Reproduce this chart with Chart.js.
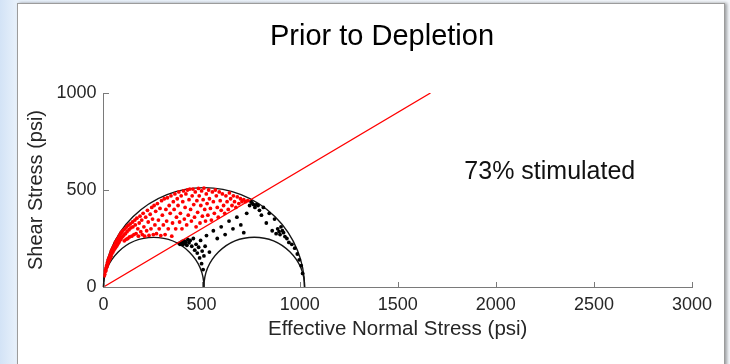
<!DOCTYPE html>
<html>
<head>
<meta charset="utf-8">
<script src="https://cdn.jsdelivr.net/npm/chart.js@4.4.1/dist/chart.umd.min.js"></script>
<style>
    html, body { margin: 0; padding: 0; }
    body {
        width: 730px;
        height: 364px;
        overflow: hidden;
        position: relative;
        background: linear-gradient(to right, #d3e3f6 0px, #e8f1fb 17px, #f3f6fa 100%);
    }
    .panel {
        position: absolute;
        left: 17px;
        top: 3px;
        width: 706px;
        height: 380px;
        background: #fff;
        border: 1px solid #9c9c9c;
        box-shadow: 2px 0 3px rgba(0, 0, 0, 0.35);
    }
    canvas { position: absolute; left: 0; top: 0; }
</style>
</head>
<body>
<div class="panel"></div>
<canvas id="chart" width="730" height="364"></canvas>
<script>
// principal stresses (psi) -> mohr circles as [sigma3, sigma1]
const principalStresses = [0, 512, 1025];
const mohrCircles = [
    [principalStresses[0], principalStresses[2]],
    [principalStresses[0], principalStresses[1]],
    [principalStresses[1], principalStresses[2]]
];

// friction line (mu = 0.6)
const frictionLine = [[0, 0], [1667, 1000]];

const xTicks = [0, 500, 1000, 1500, 2000, 2500, 3000];
const yTicks = [0, 500, 1000];

const chartTitle = 'Prior to Depletion';
const annotationText = '73% stimulated';

// fractures above the friction line [normal, shear]
const stimulatedPoints = [
    [4, 58], [6, 66], [8, 80], [10, 88], [12, 84], [14, 100], [16, 110], [18, 104], [20, 125], [22, 118],
    [24, 140], [26, 130], [28, 150], [30, 140], [32, 160], [34, 148], [36, 170], [38, 158], [40, 185], [42, 170],
    [45, 195], [48, 180], [50, 205], [52, 190], [55, 215], [58, 198], [60, 228], [62, 205], [65, 235], [68, 212],
    [70, 245], [72, 220], [75, 250], [78, 230], [80, 262], [82, 238], [85, 270], [88, 245], [90, 280], [92, 255],
    [95, 285], [98, 260], [100, 292], [104, 268], [106, 238], [110, 300], [112, 275], [115, 245], [118, 310], [120, 285],
    [124, 250], [126, 318], [130, 295], [133, 258], [136, 325], [140, 305], [144, 262], [148, 335], [150, 310], [155, 270],
    [160, 345], [162, 320], [166, 275], [170, 355], [175, 300], [178, 262], [182, 330], [186, 365], [190, 285], [195, 345],
    [198, 270], [202, 380], [206, 310], [210, 262], [215, 360], [220, 290], [224, 395], [228, 335], [232, 266], [238, 375],
    [242, 300], [246, 410], [250, 350], [254, 270], [258, 420], [262, 320], [266, 390], [270, 275], [275, 430], [280, 345],
    [284, 300], [288, 405], [292, 265], [296, 445], [300, 370], [305, 320], [310, 455], [314, 270], [318, 400], [322, 340],
    [326, 460], [330, 300], [335, 420], [340, 380], [344, 470], [348, 262], [352, 330], [356, 440], [360, 400], [364, 480],
    [368, 300], [372, 360], [376, 455], [380, 420], [384, 490], [388, 335], [392, 380], [396, 470], [400, 300], [404, 440],
    [408, 495], [412, 350], [416, 410], [420, 480], [424, 320], [428, 500], [432, 370], [436, 450], [440, 505], [444, 400],
    [448, 340], [452, 470], [456, 505], [460, 425], [464, 360], [468, 490], [472, 310], [476, 445], [480, 385], [484, 508],
    [488, 470], [492, 330], [496, 420], [500, 495], [504, 365], [508, 450], [512, 510], [516, 400], [520, 340], [524, 480],
    [528, 430], [532, 370], [536, 500], [540, 455], [545, 405], [550, 345], [555, 490], [560, 440], [565, 380], [570, 500],
    [575, 470], [580, 410], [585, 360], [590, 490], [595, 445], [600, 395], [606, 480], [612, 420], [618, 380], [624, 470],
    [630, 440], [636, 400], [642, 485], [648, 455], [655, 420], [662, 470], [668, 440], [675, 410], [682, 465], [690, 430],
    [698, 455], [706, 440], [715, 450], [724, 440], [735, 445]
];

// fractures below the friction line
const otherPoints = [
    [385, 225], [390, 220], [395, 230], [398, 222], [402, 235], [405, 218], [408, 228], [412, 238], [415, 225], [420, 232],
    [425, 215], [430, 245], [436, 228], [442, 240], [450, 210], [458, 250], [465, 190], [472, 220], [478, 175], [485, 205],
    [490, 150], [495, 240], [500, 120], [503, 185], [508, 90], [512, 160], [518, 210], [525, 265], [540, 180], [560, 290],
    [580, 250], [600, 310], [620, 270], [640, 340], [660, 300], [680, 360], [700, 320], [715, 280], [730, 380], [745, 420],
    [752, 440], [758, 432], [765, 425], [772, 410], [780, 425], [788, 420], [795, 395], [805, 370], [815, 410], [830, 330],
    [845, 380], [860, 290], [872, 350], [880, 275], [888, 300], [895, 285], [900, 270], [905, 310], [912, 290], [918, 280],
    [925, 260], [935, 250], [945, 230], [960, 220], [975, 200], [988, 170], [998, 140], [1008, 110], [1015, 70]
];

const toXY = (pairs) => pairs.map(([x, y]) => ({ x, y }));

const axisColor = '#7a7a7a';
const textColor = '#262626';
const fontFamily = '"Liberation Sans", Arial, Helvetica, sans-serif';

Chart.defaults.font.family = fontFamily;

const mohrPlugin = {
    id: 'mohr',
    beforeDatasetsDraw(chart) {
        const { ctx, scales: { x, y } } = chart;
        ctx.save();
        ctx.strokeStyle = '#151515';
        ctx.lineWidth = 1.4;
        mohrCircles.forEach(([s3, s1]) => {
            const cx = x.getPixelForValue((s1 + s3) / 2);
            const rx = x.getPixelForValue(s1) - cx;
            const cy = y.getPixelForValue(0);
            const ry = cy - y.getPixelForValue((s1 - s3) / 2);
            ctx.beginPath();
            ctx.ellipse(cx, cy, rx, ry, 0, Math.PI, 2 * Math.PI);
            ctx.stroke();
        });
        ctx.restore();
    },
    afterDraw(chart) {
        const { ctx, chartArea, scales: { x, y } } = chart;
        ctx.save();

        // matlab style ticks pointing inwards
        ctx.strokeStyle = axisColor;
        ctx.lineWidth = 1;
        ctx.beginPath();
        x.ticks.forEach(t => {
            const px = Math.round(x.getPixelForValue(t.value)) + 0.5;
            ctx.moveTo(px, Math.round(chartArea.bottom));
            ctx.lineTo(px, Math.round(chartArea.bottom) - 5);
        });
        y.ticks.forEach(t => {
            const py = Math.round(y.getPixelForValue(t.value)) + 0.5;
            ctx.moveTo(Math.round(chartArea.left), py);
            ctx.lineTo(Math.round(chartArea.left) + 5, py);
        });
        ctx.stroke();

        ctx.textAlign = 'center';
        ctx.textBaseline = 'middle';

        // title sits over the whole figure, not the axes
        ctx.fillStyle = '#000';
        ctx.font = '29px ' + fontFamily;
        ctx.fillText(chartTitle, 382, 37);

        ctx.fillStyle = '#111';
        ctx.font = '25px ' + fontFamily;
        ctx.fillText(annotationText, x.getPixelForValue(2275), y.getPixelForValue(590));
        ctx.restore();
    }
};

const ctx = document.getElementById('chart').getContext('2d');

new Chart(ctx, {
    type: 'scatter',
    data: {
        datasets: [
            {
                label: 'Friction line',
                data: toXY(frictionLine),
                showLine: true,
                borderColor: '#ff0000',
                borderWidth: 1.3,
                pointRadius: 0
            },
            {
                label: 'Stimulated',
                data: toXY(stimulatedPoints),
                backgroundColor: '#ff0000',
                borderWidth: 0,
                pointRadius: 1.9
            },
            {
                label: 'Not stimulated',
                data: toXY(otherPoints),
                backgroundColor: '#000000',
                borderWidth: 0,
                pointRadius: 1.9
            }
        ]
    },
    options: {
        responsive: false,
        animation: false,
        devicePixelRatio: 1,
        layout: {
            padding: { left: 0, right: 38, top: 93, bottom: 0 }
        },
        plugins: {
            legend: { display: false },
            tooltip: { enabled: false },
            title: { display: false }
        },
        scales: {
            x: {
                type: 'linear',
                min: 0,
                max: 3000,
                afterBuildTicks: (scale) => { scale.ticks = xTicks.map(value => ({ value })); },
                afterFit: (scale) => { scale.height = 77; },
                grid: { display: false, drawTicks: false },
                border: { display: true, color: axisColor, width: 1 },
                ticks: {
                    color: textColor,
                    font: { size: 18 },
                    padding: 7,
                    maxRotation: 0,
                    callback: (value) => String(value)
                },
                title: {
                    display: true,
                    text: 'Effective Normal Stress (psi)',
                    color: textColor,
                    font: { size: 20.5 },
                    padding: { top: 0, bottom: 22 }
                }
            },
            y: {
                type: 'linear',
                min: 0,
                max: 1000,
                afterBuildTicks: (scale) => { scale.ticks = yTicks.map(value => ({ value })); },
                afterFit: (scale) => { scale.width = 103.5; },
                grid: { display: false, drawTicks: false },
                border: { display: true, color: axisColor, width: 1 },
                ticks: {
                    color: textColor,
                    font: { size: 18 },
                    padding: 7,
                    callback: (value) => String(value)
                },
                title: {
                    display: true,
                    text: 'Shear Stress (psi)',
                    color: textColor,
                    font: { size: 20 },
                    padding: { top: 24, bottom: 0 }
                }
            }
        }
    },
    plugins: [mohrPlugin]
});
</script>
</body>
</html>
